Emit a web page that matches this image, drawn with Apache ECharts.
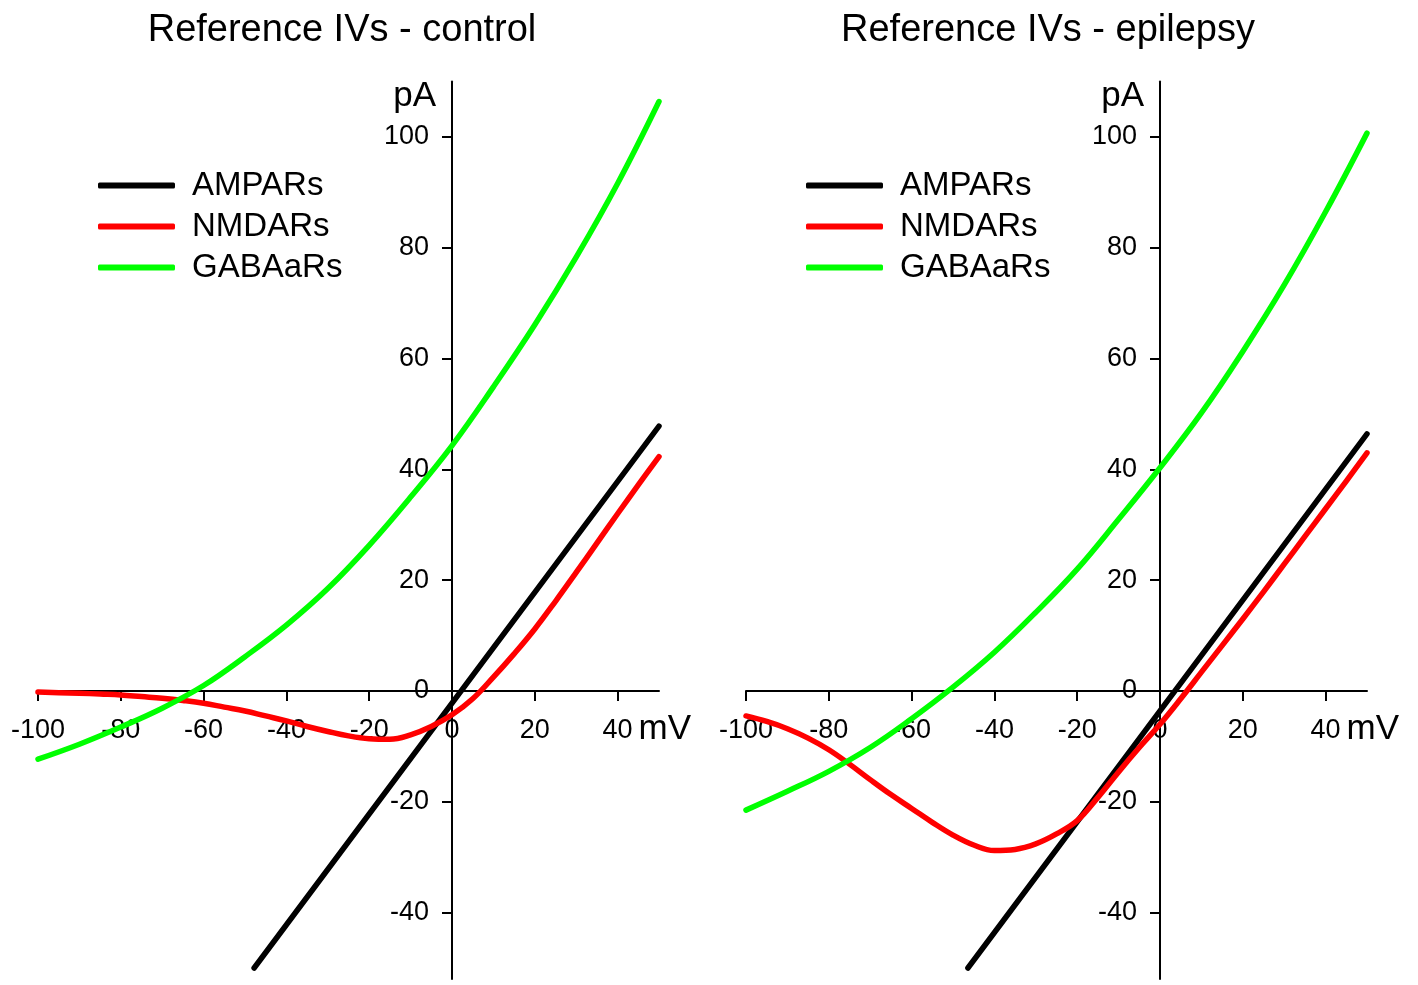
<!DOCTYPE html>
<html>
<head>
<meta charset="utf-8">
<script src="https://cdn.jsdelivr.net/npm/echarts@6/dist/echarts.min.js"></script>
<style>
html,body{margin:0;padding:0;background:#fff;}
#chart{width:1418px;height:985px;}
</style>
</head>
<body>
<div id="chart"></div>
<script>
// ---- Data (mV, pA) ----
const titles = ['Reference IVs - control', 'Reference IVs - epilepsy'];
const seriesNames = ['AMPARs', 'NMDARs', 'GABAaRs'];
const xTicks = [-100, -80, -60, -40, -20, 0, 20, 40];
const yTicks = [-40, -20, 0, 20, 40, 60, 80, 100];

// control
const vAmpaCtrl = [-47.8, 50];
const iAmpaCtrl = [-50, 47.8];
const vNmdaCtrl = [-100, -95, -90, -85, -80, -75, -70, -65, -60, -55, -50, -45, -40, -35, -30, -25, -20, -15, -10, -5, 0, 5, 10, 15, 20, 25, 30, 35, 40, 45, 50];
const iNmdaCtrl = [-0.2, -0.3, -0.4, -0.55, -0.7, -1.0, -1.3, -1.7, -2.2, -2.9, -3.6, -4.5, -5.4, -6.4, -7.3, -8.1, -8.6, -8.7, -7.9, -6.4, -4.3, -1.4, 2.5, 6.7, 11.2, 16.2, 21.4, 26.7, 32.0, 37.2, 42.3];
const vGabaCtrl = [-100, -90, -80, -70, -60, -50, -40, -30, -20, -10, 0, 10, 20, 30, 40, 50];
const iGabaCtrl = [-12.3, -9.6, -6.5, -3.1, 1.0, 6.2, 11.9, 18.5, 26.3, 35.0, 44.3, 54.9, 66.1, 78.3, 91.6, 106.4];

// epilepsy
const vAmpaEpi = [-46.4, 50];
const iAmpaEpi = [-50, 46.4];
const vNmdaEpi = [-100, -95, -90, -85, -80, -75, -70, -65, -60, -55, -50, -45, -40, -35, -30, -25, -20, -15, -10, -5, 0, 5, 10, 15, 20, 25, 30, 35, 40, 45, 50];
const iNmdaEpi = [-4.5, -5.5, -6.8, -8.5, -10.6, -13.2, -16.0, -18.7, -21.2, -23.7, -26.0, -27.8, -28.8, -28.6, -27.6, -25.8, -23.4, -19.2, -14.6, -10.2, -6.0, -1.4, 3.4, 8.2, 13.0, 17.9, 22.9, 27.9, 32.9, 37.9, 43.0];
const vGabaEpi = [-100, -90, -80, -70, -60, -50, -40, -30, -20, -10, 0, 10, 20, 30, 40, 50];
const iGabaEpi = [-21.5, -18.1, -14.5, -10.2, -5.0, 0.7, 7.0, 14.2, 22.0, 31.0, 40.3, 50.2, 61.3, 73.3, 86.5, 100.7];

const colors = ['#000000', '#ff0000', '#00ff00'];
// ---------------------------------

const FONT = 'Liberation Sans, Arial, sans-serif';
const pairs = (xs, ys) => xs.map((x, i) => [x, ys[i]]);

const panels = [
  [pairs(vAmpaCtrl, iAmpaCtrl), pairs(vNmdaCtrl, iNmdaCtrl), pairs(vGabaCtrl, iGabaCtrl)],
  [pairs(vAmpaEpi, iAmpaEpi), pairs(vNmdaEpi, iNmdaEpi), pairs(vGabaEpi, iGabaEpi)]
];

// layout
const X_MIN = -100, X_MAX = 50, Y_MIN = -52, Y_MAX = 110;
const gridLefts = [38, 746];
const gridW = 621, gridTop = 81.6, gridH = 897.5;
// place axes through the origin (x axis at 0 pA, y axis at 0 mV)
const xAxisOffset = -gridH * (0 - Y_MIN) / (Y_MAX - Y_MIN);
const yAxisOffset = -gridW * (0 - X_MIN) / (X_MAX - X_MIN);

function xAxisFor(i) {
  return {
    type: 'value', gridIndex: i, min: X_MIN, max: X_MAX, position: 'bottom', offset: xAxisOffset,
    splitLine: { show: false },
    axisLine: { onZero: false, lineStyle: { color: '#000', width: 2 } },
    axisTick: { show: true, length: 10, customValues: xTicks, lineStyle: { color: '#000', width: 2 } },
    axisLabel: { customValues: xTicks, fontSize: 27, color: '#000', margin: 26, fontFamily: FONT },
    name: 'mV', nameLocation: 'end', nameGap: -21,
    nameTextStyle: { fontSize: 35, color: '#000', fontFamily: FONT, verticalAlign: 'top', align: 'left', padding: [21, 0, 0, 0] }
  };
}
function yAxisFor(i) {
  return {
    type: 'value', gridIndex: i, min: Y_MIN, max: Y_MAX, position: 'left', offset: yAxisOffset,
    splitLine: { show: false },
    axisLine: { onZero: false, lineStyle: { color: '#000', width: 2 } },
    axisTick: { show: true, length: 10, customValues: yTicks, lineStyle: { color: '#000', width: 2 } },
    axisLabel: { customValues: yTicks, fontSize: 27, color: '#000', margin: 23, fontFamily: FONT },
    name: 'pA', nameLocation: 'end', nameGap: 0,
    nameTextStyle: { fontSize: 35, color: '#000', fontFamily: FONT, verticalAlign: 'top', align: 'right', padding: [-3, 16, 0, 0] }
  };
}

const series = [];
panels.forEach((p, gi) => {
  p.forEach((data, si) => {
    series.push({
      name: seriesNames[si], type: 'line', xAxisIndex: gi, yAxisIndex: gi,
      data: data, showSymbol: false, symbol: 'none', smooth: 0.4,
      lineStyle: { width: 5.5, color: colors[si], cap: 'round', join: 'round' },
      itemStyle: { color: colors[si] },
      emphasis: { disabled: true }
    });
  });
});

const chart = echarts.init(document.getElementById('chart'), null, { renderer: 'canvas' });
chart.setOption({
  animation: false,
  backgroundColor: '#ffffff',
  title: titles.map((t, i) => ({
    text: t, left: [337, 1043][i], top: 7, textAlign: 'center',
    textStyle: { fontSize: 38, fontWeight: 'normal', color: '#000', fontFamily: FONT }
  })),
  legend: gridLefts.map((gl, i) => ({
    data: seriesNames, orient: 'vertical', left: [98, 806][i], top: 169,
    padding: 0, itemWidth: 77, itemHeight: 6, itemGap: 8, icon: 'roundRect',
    selectedMode: false,
    textStyle: { fontSize: 33, color: '#000', fontFamily: FONT, padding: [0, 0, 0, 12] }
  })),
  grid: gridLefts.map(gl => ({ left: gl, top: gridTop, width: gridW, height: gridH, containLabel: false, outerBoundsMode: 'none' })),
  xAxis: [xAxisFor(0), xAxisFor(1)],
  yAxis: [yAxisFor(0), yAxisFor(1)],
  series: series
});
</script>
</body>
</html>
